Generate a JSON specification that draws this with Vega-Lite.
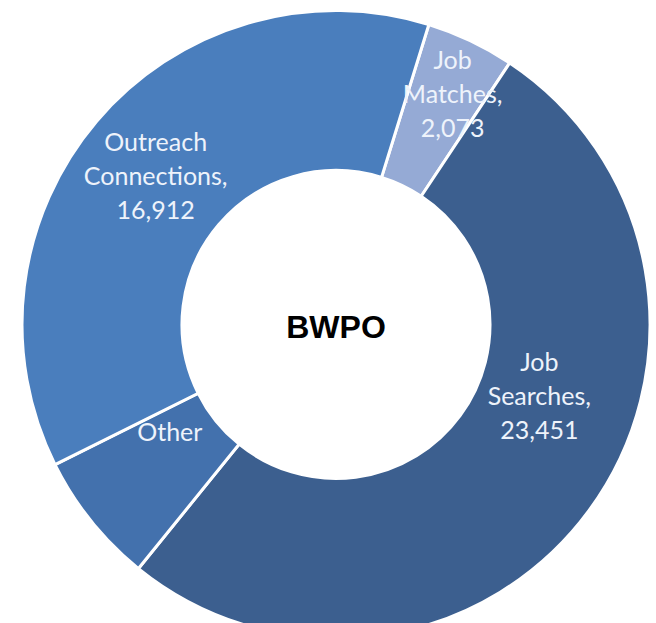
{
  "$schema": "https://vega.github.io/schema/vega-lite/v6.json",
  "width": 640,
  "height": 597,
  "autosize": "none",
  "padding": {"left": 16, "top": 26, "right": 0, "bottom": 0},
  "background": "white",
  "view": {"stroke": null},
  "data": {
    "values": [
      {"cat": "Job Matches", "value": 2073, "label": "Job\nMatches,\n2,073"},
      {"cat": "Job Searches", "value": 23451, "label": "Job\nSearches,\n23,451"},
      {"cat": "Other", "value": 3100, "label": "Other"},
      {"cat": "Outreach Connections", "value": 16912, "label": "Outreach\nConnections,\n16,912"}
    ]
  },
  "encoding": {
    "theta": {"field": "value", "type": "quantitative", "stack": true, "scale": {"range": [0.3002, 6.5834]}},
    "order": {"field": "cat", "type": "ordinal", "sort": "ascending"}
  },
  "layer": [
    {
      "mark": {"type": "arc", "innerRadius": 154, "outerRadius": 314, "stroke": "white", "strokeWidth": 3},
      "encoding": {
        "color": {
          "field": "cat", "type": "nominal", "legend": null,
          "scale": {
            "domain": ["Job Matches", "Job Searches", "Other", "Outreach Connections"],
            "range": ["#95aad5", "#3c5f8f", "#4371ad", "#4a7ebd"]
          }
        }
      }
    },
    {
      "mark": {"type": "text", "radius": 234, "dx": -2, "dy": -30, "font": "Lato", "fontSize": 25, "lineHeight": 34, "lineBreak": "\n", "color": "#eef3fb", "align": "center", "baseline": "middle"},
      "encoding": {"text": {"condition": {"test": "datum.cat === 'Outreach Connections'", "field": "label"}, "value": ""}}
    },
    {
      "mark": {"type": "text", "radius": 258, "dx": 6, "dy": -30, "font": "Lato", "fontSize": 25, "lineHeight": 34, "lineBreak": "\n", "color": "#eef3fb", "align": "center", "baseline": "middle"},
      "encoding": {"text": {"condition": {"test": "datum.cat === 'Job Matches'", "field": "label"}, "value": ""}}
    },
    {
      "mark": {"type": "text", "radius": 215, "dx": 30, "dy": -89, "font": "Lato", "fontSize": 25, "lineHeight": 34, "lineBreak": "\n", "color": "#eef3fb", "align": "center", "baseline": "middle"},
      "encoding": {"text": {"condition": {"test": "datum.cat === 'Job Searches'", "field": "label"}, "value": ""}}
    },
    {
      "mark": {"type": "text", "radius": 199, "dx": -11, "dy": -16, "font": "Lato", "fontSize": 25, "lineHeight": 34, "lineBreak": "\n", "color": "#eef3fb", "align": "center", "baseline": "middle"},
      "encoding": {"text": {"condition": {"test": "datum.cat === 'Other'", "field": "label"}, "value": ""}}
    },
    {
      "data": {"values": [{"name": "BWPO"}]},
      "mark": {"type": "text", "font": "Liberation Sans", "fontWeight": "bold", "fontSize": 32, "color": "black", "align": "center", "baseline": "middle", "dy": 3},
      "encoding": {"text": {"field": "name", "type": "nominal"}, "theta": null, "order": null}
    }
  ]
}
